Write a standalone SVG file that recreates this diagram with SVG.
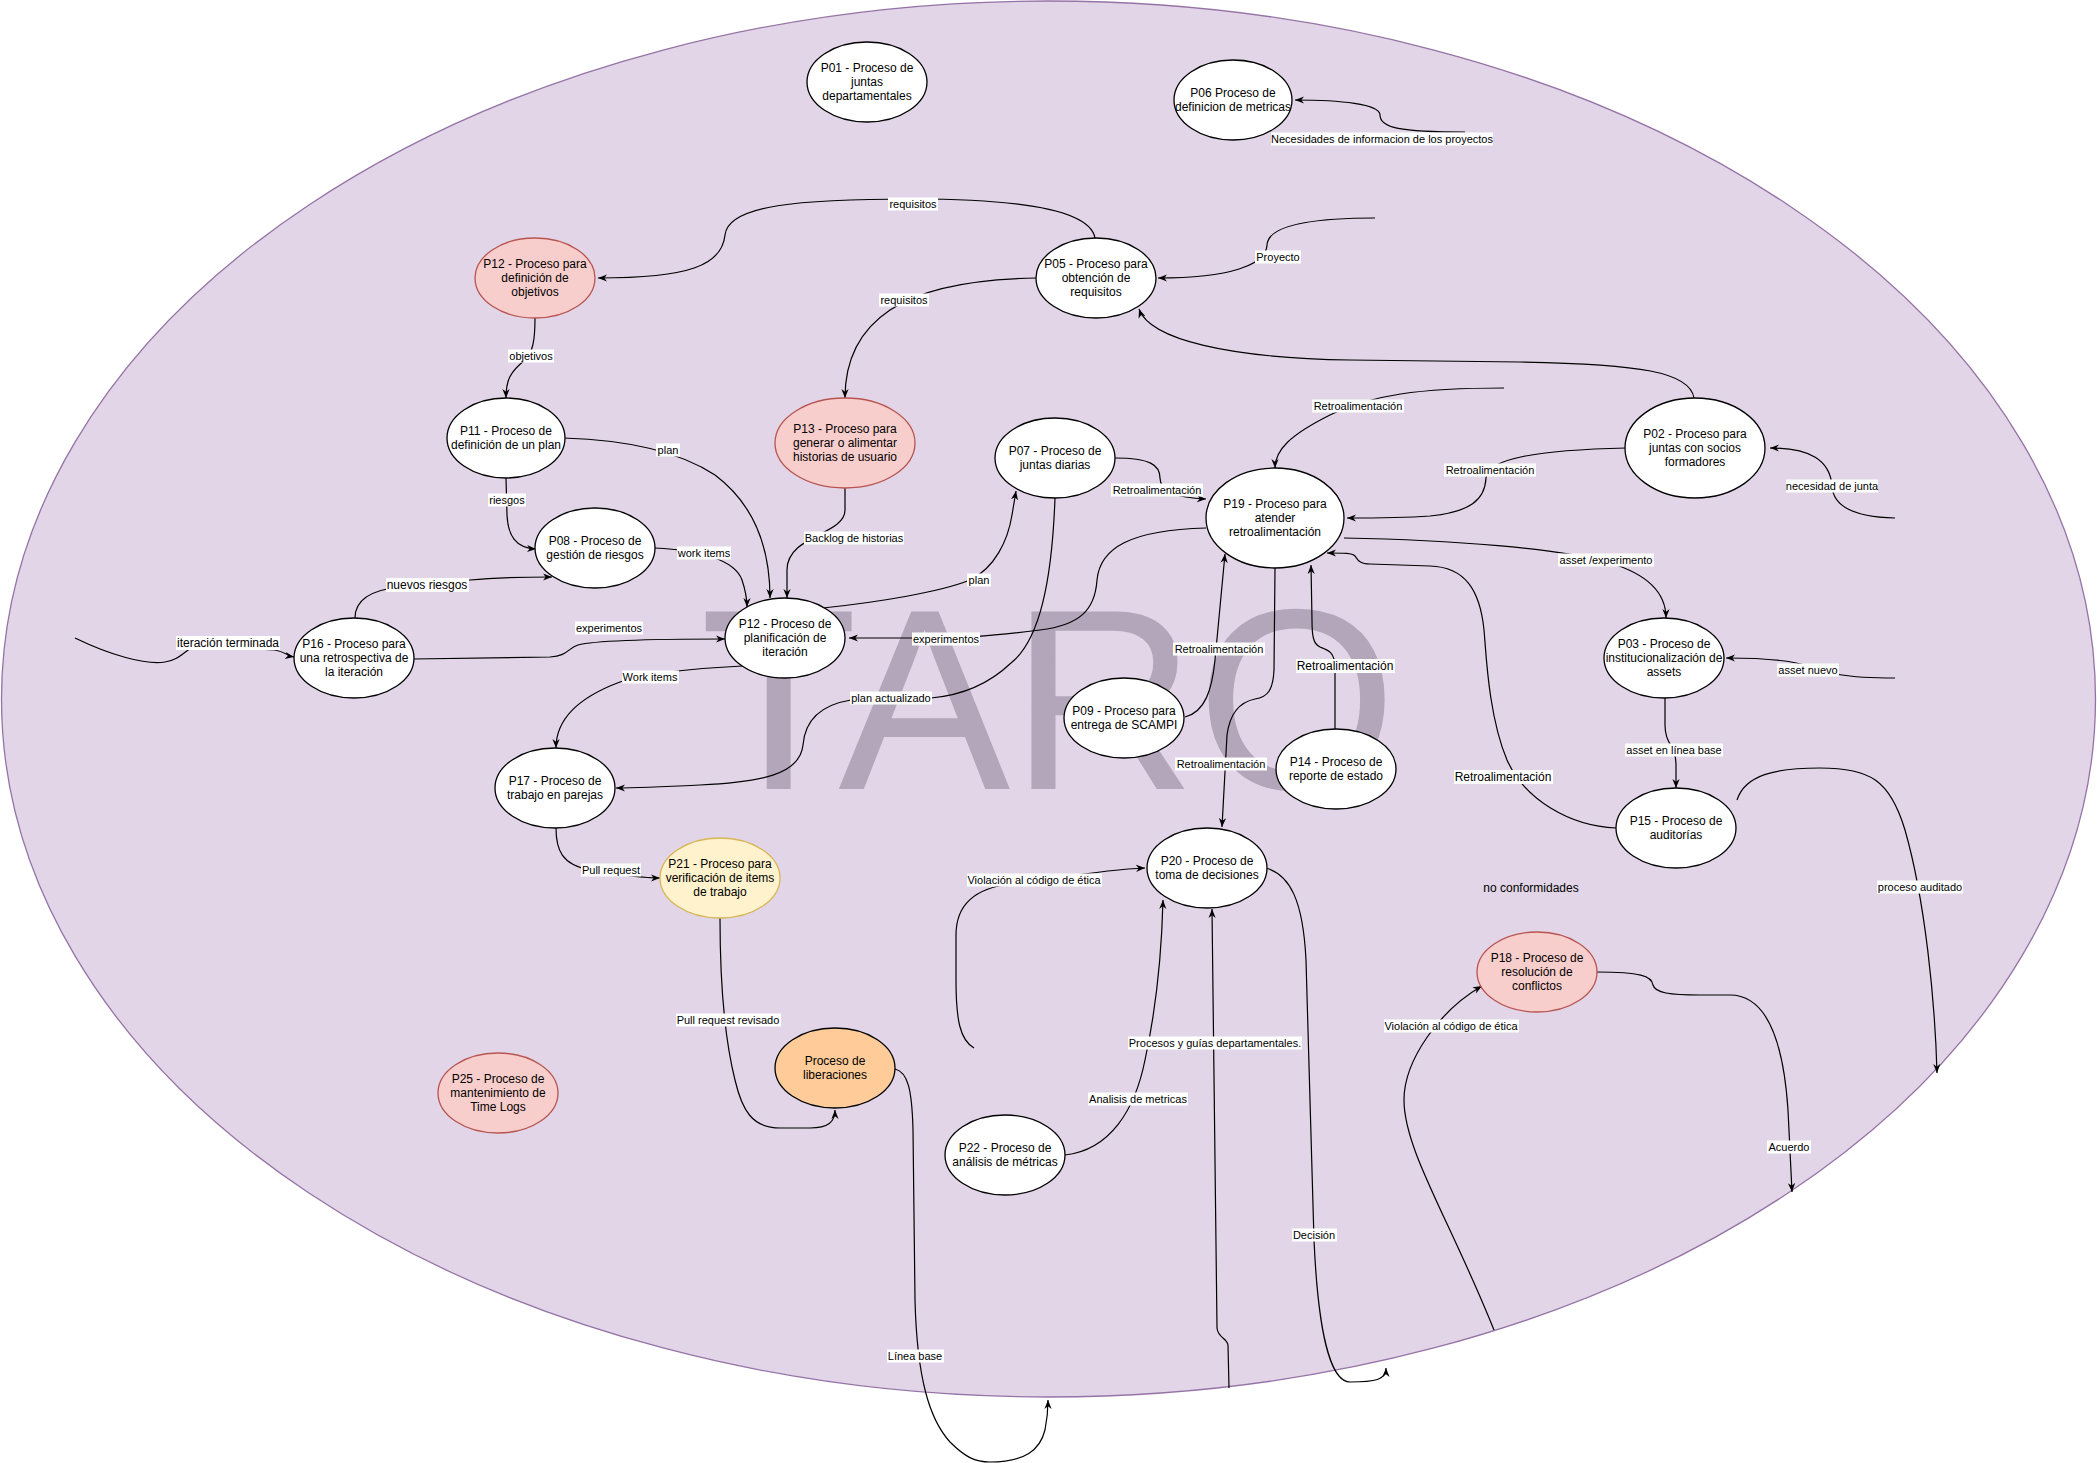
<svg xmlns="http://www.w3.org/2000/svg" width="2097" height="1463" viewBox="0 0 2097 1463">
<defs>
<marker id="arr" viewBox="0 0 10 10" refX="10" refY="5" markerWidth="9" markerHeight="9" markerUnits="userSpaceOnUse" orient="auto"><path d="M0,1 L10,5 L0,9 L3,5 z" fill="#000"/></marker>
<style>
.nd{fill:#fff;stroke:#000;stroke-width:1.3}
.red{fill:#f8cecc;stroke:#b85450}
.yel{fill:#fff2cc;stroke:#d6b656}
.org{fill:#ffcc99;stroke:#000}
.nt{font-family:"Liberation Sans",Arial,Helvetica,sans-serif;font-size:12px;fill:#000;text-anchor:middle}
.e{fill:none;stroke:#000;stroke-width:1.2;marker-end:url(#arr)}
.en{fill:none;stroke:#000;stroke-width:1.2}
.lb{fill:#fff}
.lt{font-family:"Liberation Sans",Arial,Helvetica,sans-serif;font-size:11px;fill:#000;text-anchor:middle}
.lt12{font-family:"Liberation Sans",Arial,Helvetica,sans-serif;font-size:12px;fill:#000;text-anchor:middle}
</style>
</defs>
<rect width="2097" height="1463" fill="#fff"/>
<ellipse id="boundary" cx="1048.5" cy="699" rx="1047" ry="698" fill="#e1d5e7" stroke="#9673a6" stroke-width="1.3"/>
<text x="700" y="789" font-family="Liberation Sans,Arial,sans-serif" font-size="258" textLength="697" lengthAdjust="spacingAndGlyphs" fill="#b3a6ba">TARO</text>
<text class="nt" x="1531" y="892">no conformidades</text>

<g id="connectors">
<path class="e" d="M1095,238 C1090,210 1020,199 913,199 C800,199 728,205 725,235 C722,265 690,278 598,278"/>
<path class="e" d="M535,318 C535,340 533,352 525,360 C510,372 506,380 506,398"/>
<path class="e" d="M1037,278 C970,279 920,290 890,310 C860,330 845,360 845,398"/>
<path class="e" d="M1375,218 C1300,218 1268,228 1267,245 C1266,265 1230,278 1158,278"/>
<path class="e" d="M1465,132 C1400,132 1380,128 1380,115 C1380,104 1340,100 1295,100"/>
<path class="e" d="M1694,398 C1690,372 1640,364 1520,362 L1350,360 C1230,358 1150,340 1139,309"/>
<path class="e" d="M1504,388 C1420,388 1370,395 1330,415 C1290,435 1275,450 1275,468"/>
<path class="e" d="M1626,448 C1540,450 1487,458 1486,478 C1485,500 1470,512 1430,516 C1400,518 1370,518 1347,518"/>
<path class="e" d="M1895,518 C1850,517 1833,505 1832,486 C1830,460 1810,448 1770,448"/>
<path class="e" d="M1115,458 C1150,458 1160,465 1160,478 C1160,492 1180,498 1206,499"/>
<path class="e" d="M1206,528 C1130,530 1100,548 1097,580 C1095,610 1080,625 1040,630 C1000,635 970,638 940,638 L849,638"/>
<path class="e" d="M564,438 C630,440 680,452 715,475 C755,505 770,550 770,598"/>
<path class="e" d="M506,478 L507,515 C508,535 515,548 536,549"/>
<path class="e" d="M655,548 C700,550 735,560 742,580 C746,592 747,600 747,607"/>
<path class="e" d="M845,488 L845,510 C845,535 787,535 787,570 L787,598"/>
<path class="e" d="M355,618 C355,600 370,590 400,587 L470,580 C500,577 530,577 552,577"/>
<path class="e" d="M75,638 C110,655 145,665 165,662 C180,660 185,650 195,646 L275,650 C285,652 288,656 294,657"/>
<path class="e" d="M413,659 L550,657 C568,656 568,648 578,645 C600,639 680,639 725,639"/>
<path class="e" d="M823,608 C880,602 940,592 970,580 C995,568 1008,540 1012,515 L1016,491"/>
<path class="e" d="M1055,498 C1052,580 1040,640 1011,663 C990,683 965,695 931,698 L851,700 C820,705 805,720 803,745 C800,775 760,782 700,785 C660,787 640,788 616,788"/>
<path class="e" d="M743,666 C700,668 650,672 620,682 C585,695 556,715 556,748"/>
<path class="e" d="M556,828 C556,850 562,865 590,870 C620,875 640,878 660,878"/>
<path class="e" d="M720,918 C720,990 725,1040 735,1080 C742,1110 752,1128 780,1128 L810,1128 C828,1128 835,1122 835,1110"/>
<path class="e" d="M895,1069 C908,1072 912,1090 913,1130 L915,1300 C917,1380 930,1420 950,1442 C965,1457 975,1462 990,1462 C1025,1462 1040,1450 1045,1430 C1047,1420 1048,1410 1048,1400"/>
<path class="e" d="M974,1048 C960,1040 956,1020 956,980 L956,935 C956,905 975,888 1011,884 C1060,878 1100,870 1145,868"/>
<path class="e" d="M1065,1155 C1110,1150 1135,1110 1145,1060 C1158,1000 1162,940 1163,900"/>
<path class="e" d="M1229,1388 L1228,1345 C1227,1338 1218,1338 1217,1328 L1212,909"/>
<path class="e" d="M1266,868 C1290,875 1303,900 1306,960 L1314,1240 C1318,1330 1330,1382 1350,1382 C1375,1382 1386,1380 1386,1368"/>
<path class="e" d="M1494,1330 C1450,1220 1404,1150 1404,1100 C1404,1060 1440,1010 1482,986"/>
<path class="e" d="M1597,972 C1640,972 1652,976 1653,985 C1655,993 1670,995 1700,995 L1730,995 C1770,995 1784,1050 1788,1110 L1792,1192"/>
<path class="e" d="M1737,800 C1745,775 1775,768 1820,768 C1870,768 1890,780 1905,830 C1925,900 1935,1000 1937,1073"/>
<path class="e" d="M1616,828 C1570,826 1525,800 1507,760 C1488,715 1486,650 1484,630 C1480,590 1465,567 1430,566 L1370,564 C1358,564 1357,558 1355,556 C1352,553 1345,553 1327,553"/>
<path class="e" d="M1344,538 C1450,540 1560,548 1610,563 C1650,575 1666,595 1666,618"/>
<path class="e" d="M1665,698 L1665,725 C1665,745 1676,745 1676,765 L1676,788"/>
<path class="e" d="M1895,678 C1840,678 1825,672 1808,666 C1790,660 1760,658 1726,658"/>
<path class="e" d="M1185,717 C1205,712 1212,690 1215,660 L1225,554"/>
<path class="e" d="M1335,730 L1335,668 C1335,652 1328,650 1320,647 C1313,644 1312,635 1312,620 L1311,565"/>
<path class="e" d="M1275,568 L1274,670 C1273,690 1268,697 1255,699 C1240,702 1230,712 1227,735 L1222,827"/>

<g id="labels">
<rect class="lb" x="888" y="197.5" width="50" height="13"/><text class="lt" x="913" y="208">requisitos</text>
<rect class="lb" x="508" y="349.5" width="46" height="13"/><text class="lt" x="531" y="360">objetivos</text>
<rect class="lb" x="879" y="293.5" width="50" height="13"/><text class="lt" x="904" y="304">requisitos</text>
<rect class="lb" x="1255" y="250.5" width="46" height="13"/><text class="lt" x="1278" y="261">Proyecto</text>
<rect class="lb" x="1271" y="132.5" width="222" height="13"/><text class="lt" x="1382" y="143">Necesidades de informacion de los proyectos</text>
<rect class="lb" x="1312" y="399.5" width="92" height="13"/><text class="lt" x="1358" y="410">Retroalimentación</text>
<rect class="lb" x="1444" y="463.5" width="92" height="13"/><text class="lt" x="1490" y="474">Retroalimentación</text>
<rect class="lb" x="1786" y="479.5" width="92" height="13"/><text class="lt" x="1832" y="490">necesidad de junta</text>
<rect class="lb" x="1111" y="483.5" width="92" height="13"/><text class="lt" x="1157" y="494">Retroalimentación</text>
<rect class="lb" x="912" y="632.5" width="68" height="13"/><text class="lt" x="946" y="643">experimentos</text>
<rect class="lb" x="656" y="443.5" width="24" height="13"/><text class="lt" x="668" y="454">plan</text>
<rect class="lb" x="488" y="493.5" width="38" height="13"/><text class="lt" x="507" y="504">riesgos</text>
<rect class="lb" x="677" y="546.5" width="54" height="13"/><text class="lt" x="704" y="557">work items</text>
<rect class="lb" x="804" y="531.5" width="100" height="13"/><text class="lt" x="854" y="542">Backlog de historias</text>
<rect class="lb" x="386" y="578" width="83" height="14"/><text class="lt12" x="427" y="589">nuevos riesgos</text>
<rect class="lb" x="176" y="636" width="104" height="14"/><text class="lt12" x="228" y="647">iteración terminada</text>
<rect class="lb" x="575" y="621.5" width="68" height="13"/><text class="lt" x="609" y="632">experimentos</text>
<rect class="lb" x="967" y="573.5" width="24" height="13"/><text class="lt" x="979" y="584">plan</text>
<rect class="lb" x="850" y="691.5" width="82" height="13"/><text class="lt" x="891" y="702">plan actualizado</text>
<rect class="lb" x="622" y="670.5" width="57" height="13"/><text class="lt" x="650" y="681">Work items</text>
<rect class="lb" x="581" y="863.5" width="60" height="13"/><text class="lt" x="611" y="874">Pull request</text>
<rect class="lb" x="676" y="1013.5" width="105" height="13"/><text class="lt" x="728" y="1024">Pull request revisado</text>
<rect class="lb" x="887" y="1349.5" width="57" height="13"/><text class="lt" x="915" y="1360">Línea base</text>
<rect class="lb" x="967" y="873.5" width="135" height="13"/><text class="lt" x="1034" y="884">Violación al código de ética</text>
<rect class="lb" x="1088" y="1092.5" width="100" height="13"/><text class="lt" x="1138" y="1103">Analisis de metricas</text>
<rect class="lb" x="1128" y="1036.5" width="174" height="13"/><text class="lt" x="1215" y="1047">Procesos y guías departamentales.</text>
<rect class="lb" x="1292" y="1228.5" width="45" height="13"/><text class="lt" x="1314" y="1239">Decisión</text>
<rect class="lb" x="1384" y="1019.5" width="135" height="13"/><text class="lt" x="1451" y="1030">Violación al código de ética</text>
<rect class="lb" x="1767" y="1140.5" width="44" height="13"/><text class="lt" x="1789" y="1151">Acuerdo</text>
<rect class="lb" x="1877" y="880.5" width="86" height="13"/><text class="lt" x="1920" y="891">proceso auditado</text>
<rect class="lb" x="1454" y="770" width="99" height="14"/><text class="lt12" x="1503" y="781">Retroalimentación</text>
<rect class="lb" x="1558" y="553.5" width="96" height="13"/><text class="lt" x="1606" y="564">asset /experimento</text>
<rect class="lb" x="1625" y="743.5" width="98" height="13"/><text class="lt" x="1674" y="754">asset en línea base</text>
<rect class="lb" x="1777" y="663.5" width="62" height="13"/><text class="lt" x="1808" y="674">asset nuevo</text>
<rect class="lb" x="1173" y="642.5" width="92" height="13"/><text class="lt" x="1219" y="653">Retroalimentación</text>
<rect class="lb" x="1296" y="659" width="99" height="14"/><text class="lt12" x="1345" y="670">Retroalimentación</text>
<rect class="lb" x="1175" y="757.5" width="92" height="13"/><text class="lt" x="1221" y="768">Retroalimentación</text>
</g>
</g>

<g id="P01"><ellipse class="nd" cx="867" cy="82" rx="60" ry="40"/><text class="nt" x="867" y="72"><tspan x="867">P01 - Proceso de</tspan><tspan x="867" dy="14">juntas</tspan><tspan x="867" dy="14">departamentales</tspan></text></g>
<g id="P06"><ellipse class="nd" cx="1233" cy="100" rx="59" ry="40"/><text class="nt" x="1233" y="97"><tspan x="1233">P06 Proceso de</tspan><tspan x="1233" dy="14">definicion de metricas</tspan></text></g>
<g id="P12obj"><ellipse class="nd red" cx="535" cy="278" rx="60" ry="40"/><text class="nt" x="535" y="268"><tspan x="535">P12 - Proceso para</tspan><tspan x="535" dy="14">definición de</tspan><tspan x="535" dy="14">objetivos</tspan></text></g>
<g id="P05"><ellipse class="nd" cx="1096" cy="278" rx="60" ry="40"/><text class="nt" x="1096" y="268"><tspan x="1096">P05 - Proceso para</tspan><tspan x="1096" dy="14">obtención de</tspan><tspan x="1096" dy="14">requisitos</tspan></text></g>
<g id="P11"><ellipse class="nd" cx="506" cy="438" rx="59" ry="40"/><text class="nt" x="506" y="435"><tspan x="506">P11 - Proceso de</tspan><tspan x="506" dy="14">definición de un plan</tspan></text></g>
<g id="P13"><ellipse class="nd red" cx="845" cy="443" rx="70" ry="45"/><text class="nt" x="845" y="433"><tspan x="845">P13 - Proceso para</tspan><tspan x="845" dy="14">generar o alimentar</tspan><tspan x="845" dy="14">historias de usuario</tspan></text></g>
<g id="P07"><ellipse class="nd" cx="1055" cy="458" rx="60" ry="40"/><text class="nt" x="1055" y="455"><tspan x="1055">P07 - Proceso de</tspan><tspan x="1055" dy="14">juntas diarias</tspan></text></g>
<g id="P02"><ellipse class="nd" cx="1695" cy="448" rx="70" ry="50"/><text class="nt" x="1695" y="438"><tspan x="1695">P02 - Proceso para</tspan><tspan x="1695" dy="14">juntas con socios</tspan><tspan x="1695" dy="14">formadores</tspan></text></g>
<g id="P19"><ellipse class="nd" cx="1275" cy="518" rx="69" ry="50"/><text class="nt" x="1275" y="508"><tspan x="1275">P19 - Proceso para</tspan><tspan x="1275" dy="14">atender</tspan><tspan x="1275" dy="14">retroalimentación</tspan></text></g>
<g id="P08"><ellipse class="nd" cx="595" cy="548" rx="60" ry="40"/><text class="nt" x="595" y="545"><tspan x="595">P08 - Proceso de</tspan><tspan x="595" dy="14">gestión de riesgos</tspan></text></g>
<g id="P12plan"><ellipse class="nd" cx="785" cy="638" rx="60" ry="40"/><text class="nt" x="785" y="628"><tspan x="785">P12 - Proceso de</tspan><tspan x="785" dy="14">planificación de</tspan><tspan x="785" dy="14">iteración</tspan></text></g>
<g id="P16"><ellipse class="nd" cx="354" cy="658" rx="60" ry="40"/><text class="nt" x="354" y="648"><tspan x="354">P16 - Proceso para</tspan><tspan x="354" dy="14">una retrospectiva de</tspan><tspan x="354" dy="14">la iteración</tspan></text></g>
<g id="P03"><ellipse class="nd" cx="1664" cy="658" rx="60" ry="40"/><text class="nt" x="1664" y="648"><tspan x="1664">P03 - Proceso de</tspan><tspan x="1664" dy="14">institucionalización de</tspan><tspan x="1664" dy="14">assets</tspan></text></g>
<g id="P09"><ellipse class="nd" cx="1124" cy="718" rx="60" ry="40"/><text class="nt" x="1124" y="715"><tspan x="1124">P09 - Proceso para</tspan><tspan x="1124" dy="14">entrega de SCAMPI</tspan></text></g>
<g id="P14"><ellipse class="nd" cx="1336" cy="769" rx="60" ry="40"/><text class="nt" x="1336" y="766"><tspan x="1336">P14 - Proceso de</tspan><tspan x="1336" dy="14">reporte de estado</tspan></text></g>
<g id="P17"><ellipse class="nd" cx="555" cy="788" rx="60" ry="40"/><text class="nt" x="555" y="785"><tspan x="555">P17 - Proceso de</tspan><tspan x="555" dy="14">trabajo en parejas</tspan></text></g>
<g id="P15"><ellipse class="nd" cx="1676" cy="828" rx="60" ry="40"/><text class="nt" x="1676" y="825"><tspan x="1676">P15 - Proceso de</tspan><tspan x="1676" dy="14">auditorías</tspan></text></g>
<g id="P20"><ellipse class="nd" cx="1207" cy="868" rx="60" ry="40"/><text class="nt" x="1207" y="865"><tspan x="1207">P20 - Proceso de</tspan><tspan x="1207" dy="14">toma de decisiones</tspan></text></g>
<g id="P21"><ellipse class="nd yel" cx="720" cy="878" rx="60" ry="40"/><text class="nt" x="720" y="868"><tspan x="720">P21 - Proceso para</tspan><tspan x="720" dy="14">verificación de items</tspan><tspan x="720" dy="14">de trabajo</tspan></text></g>
<g id="P18"><ellipse class="nd red" cx="1537" cy="972" rx="60" ry="40"/><text class="nt" x="1537" y="962"><tspan x="1537">P18 - Proceso de</tspan><tspan x="1537" dy="14">resolución de</tspan><tspan x="1537" dy="14">conflictos</tspan></text></g>
<g id="Liberaciones"><ellipse class="nd org" cx="835" cy="1068" rx="60" ry="40"/><text class="nt" x="835" y="1065"><tspan x="835">Proceso de</tspan><tspan x="835" dy="14">liberaciones</tspan></text></g>
<g id="P25"><ellipse class="nd red" cx="498" cy="1093" rx="60" ry="40"/><text class="nt" x="498" y="1083"><tspan x="498">P25 - Proceso de</tspan><tspan x="498" dy="14">mantenimiento de</tspan><tspan x="498" dy="14">Time Logs</tspan></text></g>
<g id="P22"><ellipse class="nd" cx="1005" cy="1155" rx="60" ry="40"/><text class="nt" x="1005" y="1152"><tspan x="1005">P22 - Proceso de</tspan><tspan x="1005" dy="14">análisis de métricas</tspan></text></g>
</svg>
